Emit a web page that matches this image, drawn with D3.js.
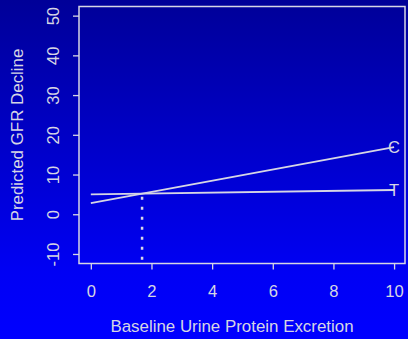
<!DOCTYPE html>
<html>
<head>
<meta charset="utf-8">
<script src="https://cdn.jsdelivr.net/npm/d3@7"></script>
<style>
  body { margin: 0; background: #0000ff; }
  svg { display: block; font-family: "Liberation Sans", Arial, sans-serif; }
</style>
</head>
<body>
<div id="chart"></div>
<script>
// data
const xTicks = [0, 2, 4, 6, 8, 10];
const yTicks = [-10, 0, 10, 20, 30, 40, 50];
const protein = [0, 10];
const controlGFR = [2.8, 16.9];   // "C"
const treatGFR = [5.0, 6.1];      // "T"
const crossX = 1.69;
const seriesNames = ["C", "T"];

const width = 408, height = 339;
const margin = { top: 6.5, right: 3, bottom: 75.5, left: 79 };
const fg = "#d6d6e4";
const fontSize = "16.6px";

const svg = d3.select("#chart").append("svg")
    .attr("width", width)
    .attr("height", height);

// background gradient, darker at the top
const grad = svg.append("defs").append("linearGradient")
    .attr("id", "bg").attr("x1", 0).attr("y1", 0).attr("x2", 0).attr("y2", 1);
grad.append("stop").attr("offset", "0%").attr("stop-color", "#000098");
grad.append("stop").attr("offset", "80%").attr("stop-color", "#0000f4");
grad.append("stop").attr("offset", "100%").attr("stop-color", "#0000ff");
svg.append("rect").attr("width", width).attr("height", height).attr("fill", "url(#bg)");

const x = d3.scaleLinear()
    .domain([-0.39, 10.36])
    .range([margin.left, width - margin.right]);
const y = d3.scaleLinear()
    .domain([-12.4, 52.3])
    .range([height - margin.bottom, margin.top]);

// x axis
const xAxis = svg.append("g")
    .attr("transform", `translate(0,${height - margin.bottom})`)
    .call(d3.axisBottom(x).tickValues(xTicks).tickSize(6).tickPadding(16));
xAxis.select(".domain").remove();
xAxis.selectAll("line").attr("stroke", fg).attr("stroke-width", 1.3);
xAxis.selectAll("text").attr("fill", fg).style("font-size", fontSize);

// y axis, labels turned like R does (plain hyphen for -10)
const yAxis = svg.append("g")
    .attr("transform", `translate(${margin.left},0)`)
    .call(d3.axisLeft(y).tickValues(yTicks).tickSize(6).tickFormat(d => String(d)));
yAxis.select(".domain").remove();
yAxis.selectAll("line").attr("stroke", fg).attr("stroke-width", 1.3);
yAxis.selectAll("text")
    .attr("fill", fg)
    .style("font-size", fontSize)
    .attr("x", 0).attr("dy", 0)
    .attr("text-anchor", "middle")
    .attr("transform", "translate(-20,0) rotate(-90)");

// box
svg.append("rect")
    .attr("x", x.range()[0]).attr("y", y.range()[1])
    .attr("width", x.range()[1] - x.range()[0])
    .attr("height", y.range()[0] - y.range()[1])
    .attr("fill", "none")
    .attr("stroke", fg)
    .attr("stroke-width", 1.5);

// the two lines
const series = [controlGFR, treatGFR];
const line = d3.line().x((d, i) => x(protein[i])).y(d => y(d));
svg.selectAll(".series")
    .data(series)
    .join("path")
    .attr("class", "series")
    .attr("d", d => line(d))
    .attr("fill", "none")
    .attr("stroke", fg)
    .attr("stroke-width", 1.8);

svg.selectAll(".lab")
    .data(series)
    .join("text")
    .attr("class", "lab")
    .attr("x", x(protein[1]))
    .attr("y", d => y(d[1]))
    .attr("dy", "0.36em")
    .attr("text-anchor", "middle")
    .attr("fill", fg)
    .style("font-size", fontSize)
    .text((d, i) => seriesNames[i]);

// dotted drop line at the crossing
const crossY = treatGFR[0] + (treatGFR[1] - treatGFR[0]) * crossX / 10;
svg.append("line")
    .attr("x1", x(crossX)).attr("x2", x(crossX))
    .attr("y1", y(crossY) + 3).attr("y2", y.range()[0])
    .attr("stroke", fg)
    .attr("stroke-width", 2.5)
    .attr("stroke-dasharray", "3,7");

// axis titles
svg.append("text")
    .attr("x", 232)
    .attr("y", 332)
    .attr("text-anchor", "middle")
    .attr("fill", fg)
    .style("font-size", "16.9px")
    .text("Baseline Urine Protein Excretion");

svg.append("text")
    .attr("transform", `translate(23,${(y.range()[0] + y.range()[1]) / 2}) rotate(-90)`)
    .attr("text-anchor", "middle")
    .attr("fill", fg)
    .style("font-size", "16.9px")
    .text("Predicted GFR Decline");
</script>
</body>
</html>
